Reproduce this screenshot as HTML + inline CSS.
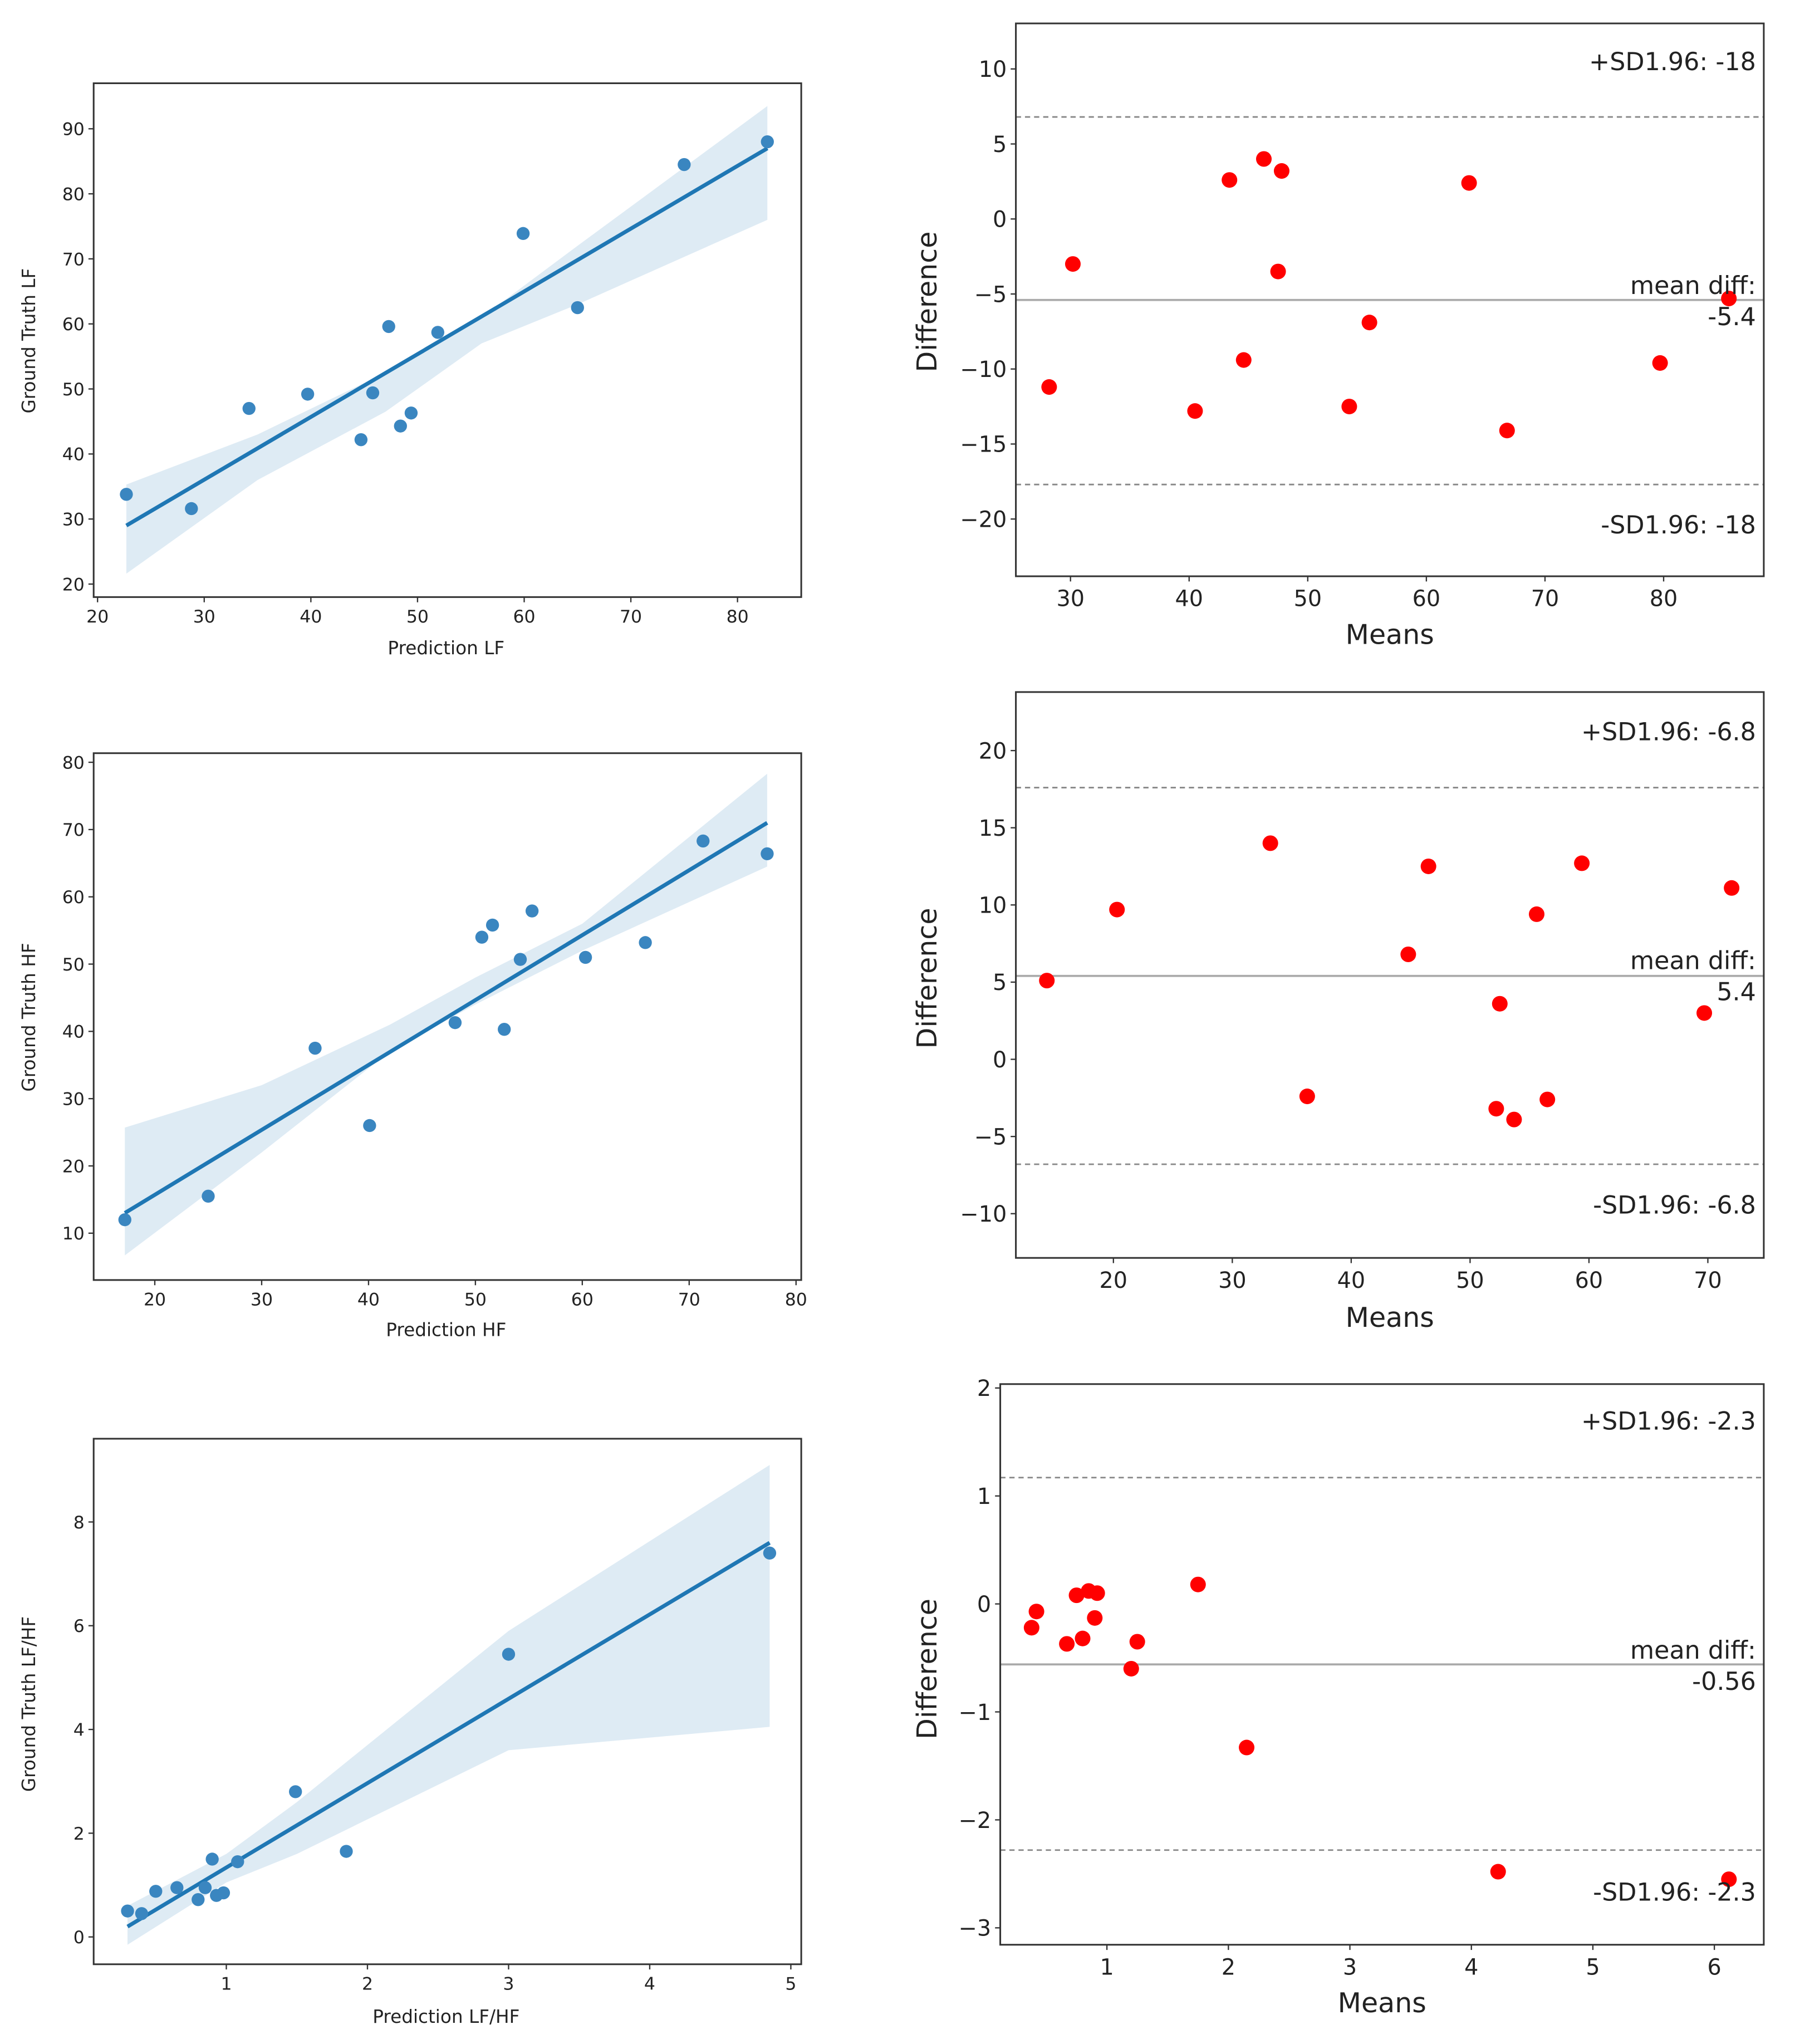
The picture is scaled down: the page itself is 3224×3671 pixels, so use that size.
<!DOCTYPE html>
<html><head><meta charset="utf-8"><style>
html,body{margin:0;padding:0;background:#fff}
svg{display:block}
text{font-family:"DejaVu Sans","Liberation Sans",sans-serif;fill:#222}
</style></head><body>
<svg id="s" width="3224" height="3671" viewBox="0 0 1380 1571.3" preserveAspectRatio="none" xmlns="http://www.w3.org/2000/svg"></svg>
<script>
// ---- data: regression panels ----
const lfPredX=[22.7,28.8,34.2,39.7,44.7,45.8,47.3,48.4,49.4,51.9,59.9,65,75,82.8];
const lfTruthY=[33.8,31.6,47,49.2,42.2,49.4,59.6,44.3,46.3,58.7,73.9,62.5,84.5,88];
const lfFit=[[22.7,29],[82.8,87]];
const lfBandX=[22.7,35,47,56,65,82.8];
const lfBandHi=[35.3,43,52.5,61,72,93.5];
const lfBandLo=[21.6,36,46.5,57,63,76];

const hfPredX=[17.2,25,35,40.1,48.1,50.6,51.6,52.7,54.2,55.3,60.3,65.9,71.3,77.3];
const hfTruthY=[12,15.5,37.5,26,41.3,54,55.8,40.3,50.7,57.9,51,53.2,68.3,66.4];
const hfFit=[[17.2,13],[77.3,71]];
const hfBandX=[17.2,30,42,50,60,77.3];
const hfBandHi=[25.7,32,41,48,56,78.3];
const hfBandLo=[6.7,22,37,44,52,64.5];

const rPredX=[0.3,0.4,0.5,0.65,0.8,0.85,0.9,0.93,0.98,1.08,1.49,1.85,3,4.85];
const rTruthY=[0.5,0.45,0.88,0.95,0.72,0.95,1.5,0.8,0.85,1.45,2.8,1.65,5.45,7.4];
const rFit=[[0.3,0.2],[4.85,7.6]];
const rBandX=[0.3,1,1.5,3,4.85];
const rBandHi=[0.6,1.6,2.6,5.9,9.1];
const rBandLo=[-0.15,1.05,1.6,3.6,4.05];

// ---- data: Bland-Altman panels ----
const baLfMeans=[28.2,30.2,40.5,43.4,44.6,46.3,47.5,47.8,53.5,55.2,63.6,66.8,79.7,85.5];
const baLfDiff=[-11.2,-3,-12.8,2.6,-9.4,4,-3.5,3.2,-12.5,-6.9,2.4,-14.1,-9.6,-5.3];
const baLfLines=[6.8,-5.4,-17.7];
const baLfText=["+SD1.96: -18","mean diff:","-5.4","-SD1.96: -18"];

const baHfMeans=[14.4,20.3,33.2,36.3,44.8,46.5,52.2,52.5,53.7,55.6,56.5,59.4,69.7,72];
const baHfDiff=[5.1,9.7,14,-2.4,6.8,12.5,-3.2,3.6,-3.9,9.4,-2.6,12.7,3,11.1];
const baHfLines=[17.6,5.4,-6.8];
const baHfText=["+SD1.96: -6.8","mean diff:","5.4","-SD1.96: -6.8"];

const baRMeans=[0.38,0.42,0.67,0.75,0.8,0.85,0.9,0.92,1.2,1.25,1.75,2.15,4.22,6.12];
const baRDiff=[-0.22,-0.07,-0.37,0.08,-0.32,0.12,-0.13,0.1,-0.6,-0.35,0.18,-1.33,-2.48,-2.55];
const baRLines=[1.17,-0.56,-2.28];
const baRText=["+SD1.96: -2.3","mean diff:","-0.56","-SD1.96: -2.3"];

const svg=document.getElementById('s');
const NS='http://www.w3.org/2000/svg';
function mk(tag,attrs,parent){const e=document.createElementNS(NS,tag);for(const k in attrs)e.setAttribute(k,attrs[k]);(parent||svg).appendChild(e);return e;}
function lin(v0,p0,v1,p1){return v=>p0+(v-v0)*(p1-p0)/(v1-v0);}

function axes(g,box,sx,sy,xt,yt,fs,xlab,ylab,lx,ly,lfs){
  mk('rect',{x:box[0],y:box[1],width:box[2]-box[0],height:box[3]-box[1],fill:'none',stroke:'#333','stroke-width':1.3},g);
  xt.forEach(t=>{const x=sx(t);mk('line',{x1:x,x2:x,y1:box[3],y2:box[3]+4,stroke:'#333'},g);
    const tx=mk('text',{x:x,y:box[3]+fs+6,'font-size':fs,'text-anchor':'middle'},g);tx.textContent=String(t).replace('-','\u2212');
    
    });
  yt.forEach(t=>{const y=sy(t);mk('line',{x1:box[0],x2:box[0]-4,y1:y,y2:y,stroke:'#333'},g);
    const tx=mk('text',{x:box[0]-7,y:y+fs*0.36,'font-size':fs,'text-anchor':'end'},g);tx.textContent=String(t).replace('-','\u2212');
    
    });
  const xl=mk('text',{x:lx[0],y:lx[1],'font-size':lfs,'text-anchor':'middle'},g);xl.textContent=xlab;
  
  
  const yl=mk('text',{x:ly[0],y:ly[1],'font-size':lfs,'text-anchor':'middle',transform:`rotate(-90 ${ly[0]} ${ly[1]})`},g);yl.textContent=ylab;
  
  
}

function regPanel(name,box,xd,yd,xt,yt,xs,ys,fit,bx,bhi,blo,xlab,ylab,lxy){
  const g=mk('g',{});
  
  
  const sx=lin(xd[0],xd[1],xd[2],xd[3]),sy=lin(yd[0],yd[1],yd[2],yd[3]);
  let pts=bx.map((x,i)=>sx(x)+','+sy(bhi[i]));
  for(let i=bx.length-1;i>=0;i--)pts.push(sx(bx[i])+','+sy(blo[i]));
  const band=mk('polygon',{points:pts.join(' '),fill:'#1f77b4','fill-opacity':0.15},g);
  
  
  const fl=mk('line',{x1:sx(fit[0][0]),y1:sy(fit[0][1]),x2:sx(fit[1][0]),y2:sy(fit[1][1]),stroke:'#1f77b4','stroke-width':3},g);
  
  
  xs.forEach((x,i)=>{const c=mk('circle',{cx:sx(x),cy:sy(ys[i]),r:5,fill:'#3a86c0'},g);
    
    });
  axes(g,box,sx,sy,xt,yt,13.5,xlab,ylab,[343,lxy[0]],[27,lxy[1]],14);
}

function baPanel(name,box,xd,yd,xt,yt,ms,ds,lines,txt,ty,ly){
  const g=mk('g',{});
  
  
  const sx=lin(xd[0],xd[1],xd[2],xd[3]),sy=lin(yd[0],yd[1],yd[2],yd[3]);
  lines.forEach((v,i)=>{const l=mk('line',{x1:box[0],x2:box[2],y1:sy(v),y2:sy(v),stroke:i==1?'#aaa':'#888','stroke-width':i==1?1.6:1.2,'stroke-dasharray':i==1?'':'4,3'},g);
    
    });
  ms.forEach((m,i)=>{const c=mk('circle',{cx:sx(m),cy:sy(ds[i]),r:6,fill:'#ff0000'},g);
    
    });
  txt.forEach((t,i)=>{const tx=mk('text',{x:1350,y:ty[i]+2,'font-size':19,'text-anchor':'end'},g);tx.textContent=t;
    
    });
  axes(g,box,sx,sy,xt,yt,17,'Means','Difference',[box[0]+(box[2]-box[0])/2,ly[0]],[720,ly[1]],21);
}

regPanel('lf-regression',[72,64,616,459],[20,75,80,567],[90,99,20,449],[20,30,40,50,60,70,80],[20,30,40,50,60,70,80,90],
  lfPredX,lfTruthY,lfFit,lfBandX,lfBandHi,lfBandLo,'Prediction LF','Ground Truth LF',[503,262]);
regPanel('hf-regression',[72,579,616,984],[20,119,80,612],[80,586,10,948],[20,30,40,50,60,70,80],[10,20,30,40,50,60,70,80],
  hfPredX,hfTruthY,hfFit,hfBandX,hfBandHi,hfBandLo,'Prediction HF','Ground Truth HF',[1027,782]);
regPanel('ratio-regression',[72,1106,616,1510],[1,174,5,608],[8,1170,0,1489],[1,2,3,4,5],[0,2,4,6,8],
  rPredX,rTruthY,rFit,rBandX,rBandHi,rBandLo,'Prediction LF/HF','Ground Truth LF/HF',[1555,1310]);

baPanel('lf-bland-altman',[781,18,1356,443],[30,823,80,1279],[10,53,-20,399],[30,40,50,60,70,80],[10,5,0,-5,-10,-15,-20],
  baLfMeans,baLfDiff,baLfLines,baLfText,[52,224,248,408],[495,232]);
baPanel('hf-bland-altman',[781,532,1356,967],[20,856,70,1313],[20,577,-10,933],[20,30,40,50,60,70],[20,15,10,5,0,-5,-10],
  baHfMeans,baHfDiff,baHfLines,baHfText,[567,743,767,931],[1020,752]);
baPanel('ratio-bland-altman',[769,1064,1356,1495],[1,851,6,1318],[2,1067,-3,1482],[1,2,3,4,5,6],[2,1,0,-1,-2,-3],
  baRMeans,baRDiff,baRLines,baRText,[1097,1273,1297,1459],[1547,1283]);
</script>
</body></html>
